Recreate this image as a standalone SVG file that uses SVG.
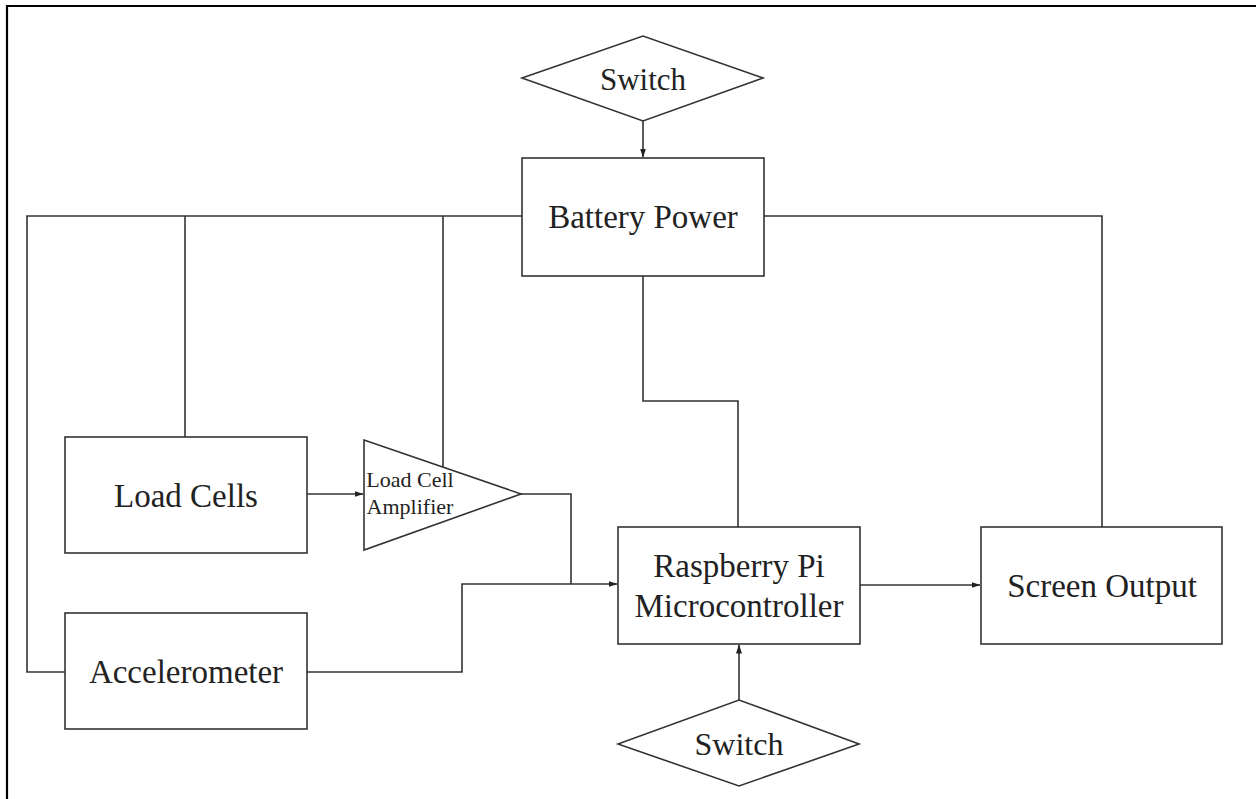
<svg xmlns="http://www.w3.org/2000/svg" width="1256" height="799" viewBox="0 0 1256 799">
<defs>
<marker id="arr" markerUnits="userSpaceOnUse" markerWidth="9" markerHeight="7" refX="8.5" refY="3.5" orient="auto">
<path d="M0,0.5 L9,3.5 L0,6.5 z" fill="#222"/>
</marker>
<style>
.n{fill:#fff;stroke:#333;stroke-width:1.6}
.c{fill:none;stroke:#333;stroke-width:1.6}
.t{font-family:"Liberation Serif","Times New Roman",serif;font-size:33px;fill:#222;text-anchor:middle}
.s{font-size:22px}
</style>
</defs>
<rect x="0" y="0" width="1256" height="799" fill="#fff"/>
<g id="frame">
<line x1="7" y1="5" x2="7" y2="799" stroke="#000" stroke-width="2.2"/>
<line x1="6" y1="6" x2="1256" y2="6" stroke="#000" stroke-width="2.2"/>
</g>
<g id="connectors">
<line class="c" x1="643" y1="121" x2="643" y2="157" marker-end="url(#arr)"/>
<polyline class="c" points="522,216 27,216 27,672 65,672"/>
<line class="c" x1="185" y1="216" x2="185" y2="437"/>
<line class="c" x1="443" y1="216" x2="443" y2="467"/>
<polyline class="c" points="764,216 1102,216 1102,527"/>
<polyline class="c" points="643,276 643,401 738,401 738,527"/>
<line class="c" x1="307" y1="494" x2="363" y2="494" marker-end="url(#arr)"/>
<polyline class="c" points="521,494 571,494 571,584"/>
<polyline class="c" points="307,672 462,672 462,584 617,584" marker-end="url(#arr)"/>
<line class="c" x1="860" y1="585" x2="980" y2="585" marker-end="url(#arr)"/>
<line class="c" x1="739" y1="700" x2="739" y2="645" marker-end="url(#arr)"/>
</g>
<g id="switch-top">
<polygon class="n" points="522,78 643,36 763,78 643,121"/>
<text class="t" x="643" y="90" style="font-size:31px">Switch</text>
</g>
<g id="battery">
<rect class="n" x="522" y="158" width="242" height="118"/>
<text class="t" x="643" y="228">Battery Power</text>
</g>
<g id="load-cells">
<rect class="n" x="65" y="437" width="242" height="116"/>
<text class="t" x="186" y="507">Load Cells</text>
</g>
<g id="amplifier">
<polygon class="n" points="364,440 521,494 364,550"/>
<text class="t s" x="410" y="487">Load Cell</text>
<text class="t s" x="410" y="514">Amplifier</text>
</g>
<g id="accelerometer">
<rect class="n" x="65" y="613" width="242" height="116"/>
<text class="t" x="186" y="683">Accelerometer</text>
</g>
<g id="raspberry-pi">
<rect class="n" x="618" y="527" width="242" height="117"/>
<text class="t" x="739" y="577">Raspberry Pi</text>
<text class="t" x="739" y="617">Microcontroller</text>
</g>
<g id="screen-output">
<rect class="n" x="981" y="527" width="241" height="117"/>
<text class="t" x="1102" y="597">Screen Output</text>
</g>
<g id="switch-bottom">
<polygon class="n" points="618,744 739,700 859,744 739,786"/>
<text class="t" x="739" y="755" style="font-size:32px">Switch</text>
</g>
</svg>
